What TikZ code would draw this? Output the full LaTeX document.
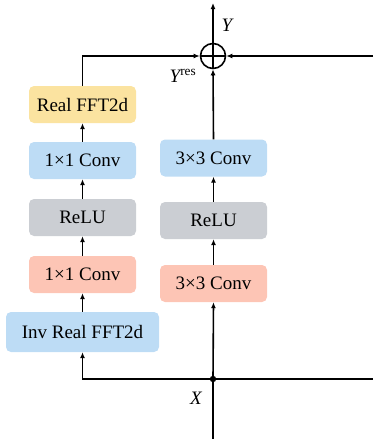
\documentclass[tikz,border=0pt]{standalone}
\usepackage{fontspec}
\setmainfont{Liberation Serif}
\usetikzlibrary{arrows.meta}
\definecolor{cyellow}{HTML}{FBE3A0}
\definecolor{cblue}{HTML}{BDDCF5}
\definecolor{cgray}{HTML}{CBCED3}
\definecolor{cpink}{HTML}{FDC5B5}
\begin{document}
\begin{tikzpicture}[x=1pt,y=-1pt,
  box/.style={rounded corners=5pt, minimum width=107pt, minimum height=37pt, inner sep=0pt, font=\fontsize{19}{21}\selectfont},
  arr/.style={line width=1.6pt, -{Latex[length=6pt,width=5pt]}},
  ln/.style={line width=1.6pt},
  lab/.style={font=\fontsize{19}{21}\selectfont\itshape, inner sep=0pt}]
\useasboundingbox (0,0) rectangle (373,439);
% left column
\node[box, fill=cyellow] (real) at (82.5,104.5) {Real FFT2d};
\node[box, fill=cblue] (c1a) at (82.5,160.5) {1×1 Conv};
\node[box, fill=cgray] (relul) at (82.5,217.5) {ReLU};
\node[box, fill=cpink] (c1b) at (82.5,274.5) {1×1 Conv};
\node[box, fill=cblue, minimum width=153pt, minimum height=40pt] (inv) at (82.5,332) {Inv Real FFT2d};
% right column
\node[box, fill=cblue] (c3a) at (213.5,158) {3×3 Conv};
\node[box, fill=cgray] (relur) at (213.5,220.5) {ReLU};
\node[box, fill=cpink] (c3b) at (213.5,283.5) {3×3 Conv};
% sum
\node[draw, circle, line width=1.6pt, minimum size=25pt, inner sep=0pt] (sum) at (213,56) {};
\draw[ln] (sum.north) -- (sum.south) (sum.west) -- (sum.east);
% coordinates
\coordinate (x) at (213,379);
\coordinate (bot) at (213,439);
\coordinate (rb) at (373,379);
\coordinate (rt) at (373,56);
\coordinate (top) at (213,3);
% connectors
\draw[ln] (bot) -- (x);
\draw[ln] (x) -- (rb);
\fill (x) circle (3.2pt);
\draw[arr] (x) -| (inv.south);
\draw[arr] (x) -- (c3b.south);
\draw[arr] (inv.north) -- (c1b.south);
\draw[arr] (c1b.north) -- (relul.south);
\draw[arr] (relul.north) -- (c1a.south);
\draw[arr] (c1a.north) -- (real.south);
\draw[arr] (real.north) |- (sum.west);
\draw[arr] (c3b.north) -- (relur.south);
\draw[arr] (relur.north) -- (c3a.south);
\draw[arr] (c3a.north) -- (sum.south);
\draw[arr] (rt) -- (sum.east);
\draw[arr] (sum.north) -- (top);
% labels
\node[lab] (ly) at (227,25) {Y};
\node[lab] (lyres) at (183,76) {Y\textsuperscript{\upshape res}};
\node[lab] (lx) at (196,398) {X};
\end{tikzpicture}
\end{document}
